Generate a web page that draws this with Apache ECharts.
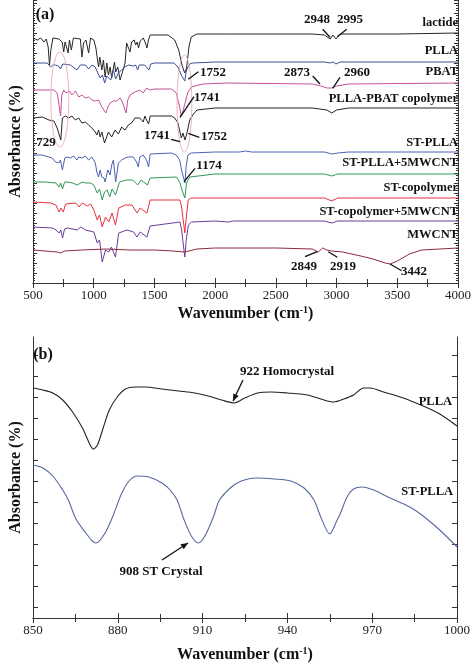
<!DOCTYPE html>
<html><head><meta charset="utf-8">
<script src="https://cdn.jsdelivr.net/npm/echarts/dist/echarts.min.js"></script>
<style>html,body{margin:0;padding:0;background:#fff}#c{width:474px;height:666px}</style>
</head><body><div id="c"></div>
<script>
// ---------- Panel (a): FTIR spectra, [wavenumber, absorbance (arb. offset units)] ----------
const lactide = [[500,245],[535,243],[563,245],[590,241],[609,244],[625,236],[636,218],[647,233],[664,245],[713,244],[740,241],[753,231],[764,241],[776,236],[789,230],[800,243],[816,233],[833,245],[890,244],[903,226],[917,240],[936,243],[958,230],[974,245],[1001,243],[1018,235],[1029,225],[1040,216],[1050,226],[1067,213],[1080,223],[1094,206],[1108,220],[1121,208],[1135,216],[1148,205],[1171,221],[1181,211],[1198,216],[1217,203],[1242,213],[1258,220],[1271,240],[1285,241],[1299,231],[1312,241],[1334,243],[1345,238],[1359,241],[1369,235],[1383,242],[1408,245],[1426,240],[1438,235],[1451,243],[1465,248],[1612,248],[1667,243],[1700,233],[1727,218],[1749,210],[1765,215],[1784,236],[1803,246],[1850,249],[2100,249],[2500,249],[2800,249],[2900,248],[2948,244],[2970,248],[2995,244],[3030,249],[3500,249],[4000,250]];
const plla = [[500,220],[617,220],[645,216],[662,218],[685,218],[710,217],[726,214],[745,219],[808,218],[862,213],[890,218],[931,218],[958,214],[985,218],[1013,216],[1034,210],[1053,205],[1072,208],[1090,200],[1108,207],[1121,208],[1140,203],[1162,213],[1181,204],[1203,210],[1230,213],[1258,216],[1285,218],[1326,217],[1345,218],[1362,213],[1375,218],[1420,218],[1455,213],[1470,219],[1500,220],[1660,220],[1694,216],[1721,208],[1750,202],[1762,212],[1790,219],[1816,220],[2000,221],[2900,221],[2948,220],[2970,221],[2995,219],[3030,221],[4000,221]];
const pbat = [[500,193],[672,193],[699,190],[712,180],[727,167],[737,188],[753,193],[772,190],[799,192],[821,188],[849,192],[876,186],[903,188],[931,185],[958,186],[985,183],[1013,182],[1040,183],[1067,176],[1100,170],[1116,176],[1135,180],[1162,182],[1189,182],[1217,185],[1236,181],[1267,170],[1280,183],[1299,188],[1340,191],[1380,193],[1408,190],[1435,195],[1462,193],[1503,194],[1640,194],[1680,190],[1708,176],[1720,167],[1735,172],[1748,178],[1776,191],[1803,196],[1900,199],[2100,200],[2800,199],[2873,197],[2920,195],[2960,195],[3000,197],[3100,199],[4000,200]];
const copolymer = [[500,165],[576,166],[631,163],[672,162],[699,155],[729,143],[742,165],[767,167],[794,165],[821,167],[849,163],[876,165],[903,160],[931,161],[958,158],[985,155],[1013,151],[1026,148],[1040,153],[1053,146],[1067,151],[1089,140],[1121,151],[1148,146],[1176,153],[1203,149],[1230,156],[1258,153],[1285,158],[1312,160],[1340,165],[1380,165],[1408,161],[1421,167],[1435,163],[1452,159],[1465,167],[1503,167],[1640,167],[1667,165],[1694,160],[1710,151],[1722,145],[1735,150],[1752,143],[1770,151],[1790,163],[1816,168],[1850,173],[2000,175],[2800,175],[2920,173],[2960,170],[3000,173],[3100,175],[4000,175]];
const stPlla = [[500,128],[576,128],[658,125],[685,121],[713,120],[726,123],[742,113],[762,125],[781,126],[808,125],[835,127],[862,123],[876,126],[903,125],[931,127],[958,123],[985,126],[1013,120],[1026,111],[1040,106],[1053,113],[1067,106],[1085,105],[1094,101],[1116,113],[1135,108],[1148,118],[1162,123],[1181,101],[1203,120],[1230,123],[1258,125],[1285,126],[1326,126],[1353,121],[1367,116],[1380,126],[1408,128],[1435,123],[1452,116],[1465,129],[1476,130],[1640,130],[1680,128],[1708,123],[1727,111],[1752,100],[1760,116],[1776,128],[1803,130],[2000,131],[2200,131],[2250,132],[2300,131],[2900,131],[2960,129],[3010,130],[3100,131],[4000,131]];
const stPllaMwcnt = [[500,101],[600,101],[688,100],[715,96],[729,100],[743,94],[760,101],[784,101],[825,100],[865,98],[906,101],[933,100],[974,100],[1001,98],[1029,90],[1048,94],[1070,83],[1089,91],[1111,93],[1132,86],[1151,94],[1180,88],[1212,101],[1267,103],[1321,103],[1362,98],[1389,103],[1443,98],[1465,105],[1479,106],[1683,106],[1710,100],[1725,94],[1750,85],[1765,100],[1790,106],[1806,108],[2000,109],[2900,109],[2960,107],[3010,109],[4000,109]];
const stCopolymer = [[500,81],[647,80],[688,78],[715,71],[729,75],[750,71],[768,79],[784,80],[852,80],[879,76],[906,80],[947,77],[974,79],[1001,73],[1029,63],[1048,68],[1070,56],[1097,66],[1124,61],[1151,70],[1179,58],[1206,75],[1260,78],[1315,78],[1356,70],[1383,75],[1438,70],[1465,83],[1710,83],[1724,76],[1750,50],[1762,65],[1778,83],[1800,85],[2000,85],[2900,85],[2960,82],[3010,85],[4000,85]];
const stCopolymerMwcnt = [[500,56],[661,55],[690,53],[715,50],[729,53],[743,45],[760,54],[784,55],[865,53],[893,56],[933,53],[1001,51],[1029,40],[1048,43],[1070,21],[1097,33],[1124,31],[1146,36],[1179,26],[1206,50],[1274,53],[1328,51],[1356,46],[1383,51],[1438,46],[1465,57],[1479,58],[1710,61],[1724,53],[1750,26],[1762,43],[1780,58],[1806,61],[2000,62],[2110,61],[2150,62],[2900,62],[2960,60],[3010,62],[4000,62]];
const mwcnt = [[500,33],[600,32],[700,31],[729,30],[760,32],[900,33],[1100,34],[1300,33],[1500,33],[1650,32],[1750,31],[1850,34],[2000,35],[2500,35],[2800,34],[2849,31],[2885,35],[2919,33],[2960,32],[3050,31],[3200,27],[3300,24],[3400,20],[3442,19],[3500,22],[3600,29],[3700,33],[3850,34],[4000,35]];
const namesA = ['lactide','PLLA','PBAT','PLLA-PBAT copolymer','ST-PLLA','ST-PLLA+5MWCNT','ST-copolymer','ST-copolymer+5MWCNT','MWCNT'];
const dataA = [lactide, plla, pbat, copolymer, stPlla, stPllaMwcnt, stCopolymer, stCopolymerMwcnt, mwcnt];
const colorsA = ['#262626','#3d4c98','#c2509a','#222222','#4a62b2','#2f9658','#e6303e','#6a3c98','#8c2a3c'];

// ---------- Panel (b) ----------
const pllaB = [[850,230],[853.5,228],[857,225],[860.5,218],[864,206],[867.5,190],[869.9,175],[871.3,169],[872.8,173],[874.6,188],[877,208],[879.8,221],[882.7,229],[886.3,231],[889.8,231],[895.6,229],[901.5,227],[907.3,225],[912,222],[916.7,218],[921.3,215],[924.9,220],[929.5,225],[934.2,226],[940,225],[947,223],[951.8,219],[956.4,216],[960,219],[963.4,223],[967,230],[969.3,230],[974,226],[981,220],[988,212],[993.9,204],[1000,192]];
const stPllaB = [[850,153],[853.5,150],[857,142],[860.5,128],[862.5,118],[865.2,99],[868.7,85],[871,77],[872.2,75],[873.5,77],[875.7,86],[878,100],[880,115],[881.6,126],[884,137],[886.8,142],[891,141],[895.6,135],[898.5,128],[901,118],[903.2,100],[906,82],[908.5,75],[910.8,82],[913.8,101],[916,118],[920.2,131],[923.7,137],[928.9,140],[935.4,139],[941.2,137],[945.9,130],[949.4,118],[951.8,101],[955,84],[957.6,98],[958.8,105],[961.1,121],[963.4,129],[966.4,131],[970.5,128],[976.3,120],[983.3,111],[988,102],[993.9,88],[1000,71]];
const namesB = ['PLLA','ST-PLLA'];
const colorsB = ['#222222','#56679f'];

const F = '"Liberation Serif","Times New Roman",serif';
const AX = {color:'#333', width:1};
const chart = echarts.init(document.getElementById('c'), null, {renderer:'canvas'});

function xName(gap){ return {
  name:'{t|Wavenumber (cm}{s|-1}{t|)}', nameLocation:'middle', nameGap:gap,
  nameTextStyle:{rich:{t:{fontFamily:F,fontWeight:'bold',fontSize:16,color:'#111'},
                       s:{fontFamily:F,fontWeight:'bold',fontSize:10,color:'#111',verticalAlign:'bottom',padding:[0,0,8,0]}}}
};}
function xAx(grid, min, max, interval, pos, labels, extra){
  return Object.assign({gridIndex:grid, type:'value', min, max, interval, position:pos,
    axisLine:{show:true, lineStyle:AX}, axisTick:{show:true, inside:true, length:5, lineStyle:AX},
    minorTick:{show:true, splitNumber:2, length:4, lineStyle:AX},
    axisLabel:{show:labels, fontFamily:F, fontSize:13, color:'#222', margin:6, hideOverlap:false,
      formatter:v=>String(v)},
    splitLine:{show:false}, minorSplitLine:{show:false}}, extra||{});
}
function yAx(grid, max, interval, pos, dense, extra){
  return Object.assign({gridIndex:grid, type:'value', min:0, max, interval, position:pos,
    axisLine:{show:true, lineStyle:AX},
    axisTick:{show:dense, inside:true, length:4, lineStyle:AX},
    minorTick:{show:true, splitNumber:dense?4:2, length:dense?2:5, lineStyle:AX},
    axisLabel:{show:false}, splitLine:{show:false}, minorSplitLine:{show:false}}, extra||{});
}
const yName = {name:'Absorbance (%)', nameLocation:'middle', nameGap:9,
  nameTextStyle:{fontFamily:F, fontWeight:'bold', fontSize:16, color:'#111'}};

const series = [];
dataA.forEach((d,i)=>series.push({type:'line', name:namesA[i], xAxisIndex:0, yAxisIndex:0, data:d,
  showSymbol:false, symbol:'none', lineStyle:{color:colorsA[i], width:1}, silent:true, animation:false}));
[pllaB, stPllaB].forEach((d,i)=>series.push({type:'line', name:namesB[i], xAxisIndex:2, yAxisIndex:2, data:d,
  showSymbol:false, symbol:'none', smooth:0.3, lineStyle:{color:colorsB[i], width:1.1}, silent:true, animation:false}));

chart.setOption({
  animation:false,
  grid:[{left:32, right:14, top:0, height:283}, {left:30, right:17, top:337, height:281}],
  xAxis:[
    xAx(0,500,4000,500,'bottom',true, xName(22)),
    xAx(0,500,4000,500,'top',false),
    xAx(1,850,1000,30,'bottom',true, xName(28)),
    xAx(1,850,1000,30,'top',false)
  ],
  yAxis:[
    yAx(0,283,10,'left',true, yName),
    yAx(0,283,10,'right',true),
    yAx(1,281,21,'left',false, yName),
    yAx(1,281,21,'right',false)
  ],
  series
});

// ---------- annotations ----------
const g = [];
function txt(t,x,y,size,align){ g.push({type:'text', x, y, z:10, style:{text:t, font:'bold '+size+'px '+F, fill:'#111',
  align:align||'center', textAlign:align||'center', verticalAlign:'middle', textVerticalAlign:'middle'}}); }
function ln(x1,y1,x2,y2,c){ g.push({type:'line', z:10, shape:{x1,y1,x2,y2}, style:{stroke:c||'#111', lineWidth:1.3}}); }
function arrow(x1,y1,x2,y2){
  ln(x1,y1,x2,y2);
  const a = Math.atan2(y2-y1,x2-x1), L=7, W=3;
  g.push({type:'polygon', z:10, shape:{points:[[x2,y2],
    [x2-L*Math.cos(a)+W*Math.sin(a), y2-L*Math.sin(a)-W*Math.cos(a)],
    [x2-L*Math.cos(a)-W*Math.sin(a), y2-L*Math.sin(a)+W*Math.cos(a)]]}, style:{fill:'#111'}});
}
// ellipses around 729 and 1741/1752 regions (data coords)
[[721,183.5,74,47.5],[1747,179.5,61,48.5]].forEach(e=>{
  const c = chart.convertToPixel({gridIndex:0},[e[0],e[1]]);
  const r = chart.convertToPixel({gridIndex:0},[e[0]+e[2],e[1]+e[3]]);
  g.push({type:'ellipse', z:5, shape:{cx:c[0], cy:c[1], rx:Math.abs(r[0]-c[0]), ry:Math.abs(c[1]-r[1])},
    style:{fill:'none', stroke:'#e6b4bb', lineWidth:1}});
});
txt('(a)',45,15,16); txt('(b)',43,355,16);
const labA = [[23],[51],[72],[99],[143],[163],[188],[212],[235]];
namesA.forEach((n,i)=>txt(n,458,labA[i][0],12.5,'right'));
txt('PLLA',452,402,12.5,'right'); txt('ST-PLLA',453,492,12.5,'right');
txt('2948',317,20,13); txt('2995',350,20,13);
ln(322.7,29.3,330,37.3); ln(346.7,29.3,337.3,36.7);
txt('1752',213,73,13); ln(198.3,71.7,188.3,79.3);
txt('2873',297,73,13); txt('2960',357,73,13);
ln(312.7,76,320,84); ln(340,77.3,332.7,88.3);
txt('1741',207,98,13); ln(194,96.7,180,117.3);
txt('729',46,143,13);
txt('1741',157,136,13); ln(171,139.3,180,141.7);
txt('1752',214,137,13); ln(199.3,137.3,188.3,133.3);
txt('1174',209,166,13); ln(195,168.3,184,181.7);
txt('2849',304,267,13); txt('2919',343,267,13);
ln(305,256.7,317.3,251.7); ln(328.3,251.7,337.3,257.3);
txt('3442',414,272,13); ln(390,264,401.7,270.7);
txt('922 Homocrystal',287,372,13); arrow(243,380,233,401);
txt('908 ST Crystal',161,572,13); arrow(162,560,188,543);
chart.setOption({graphic:{elements:g}});
</script></body></html>
